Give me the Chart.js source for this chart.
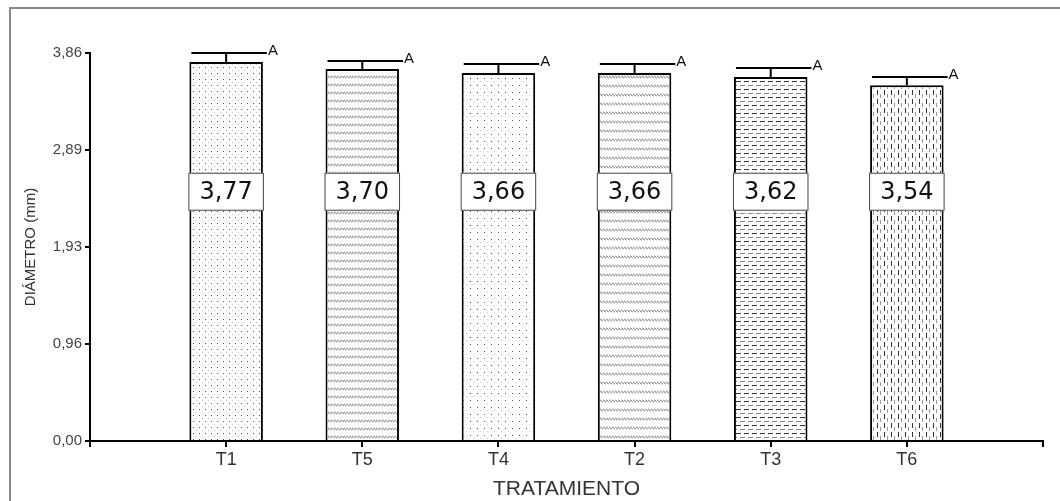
<!DOCTYPE html>
<html>
<head>
<meta charset="utf-8">
<script src="https://cdn.jsdelivr.net/npm/chart.js@4.4.1/dist/chart.umd.min.js"></script>
<style>
  html, body { margin: 0; padding: 0; background: #ffffff; }
  #wrap { width: 1060px; height: 501px; }
</style>
</head>
<body>
<div id="wrap"><canvas id="chart" width="1060" height="501"></canvas></div>
<script>
// data
const treatments = ["T1", "T5", "T4", "T2", "T3", "T6"];
const diameters = [3.77, 3.70, 3.66, 3.66, 3.62, 3.54];
const errors = [0.09, 0.08, 0.09, 0.09, 0.09, 0.08];
const groups = ["A", "A", "A", "A", "A", "A"];
const yTickValues = [0, 0.965, 1.93, 2.895, 3.86];
const yTickLabels = ["0,00", "0,96", "1,93", "2,89", "3,86"];

const AXIS_FONT = "'Liberation Sans', Arial, sans-serif";
const LABEL_LEVEL = 2.48; // height where the value boxes sit

// hatch fills, one per bar
function makePattern(w, h, draw) {
  const c = document.createElement("canvas");
  c.width = w; c.height = h;
  const g = c.getContext("2d");
  g.fillStyle = "#ffffff";
  g.fillRect(0, 0, w, h);
  draw(g);
  return g.createPattern(c, "repeat");
}

const dots = makePattern(6, 6, g => {
  g.fillStyle = "#555"; g.fillRect(1, 1, 1, 1);
  g.fillStyle = "#c8c8c8"; g.fillRect(4, 4, 1, 1);
});
const dotsWide = makePattern(7, 7, g => {
  g.fillStyle = "#555"; g.fillRect(1, 1, 1, 1);
  g.fillStyle = "#cfcfcf"; g.fillRect(4, 4, 1, 1);
});
const slash = makePattern(3, 8, g => {
  g.strokeStyle = "#555"; g.lineWidth = 1;
  g.beginPath(); g.moveTo(0, 6.5); g.lineTo(3, 3.5); g.stroke();
});
const backslash = makePattern(3, 9, g => {
  g.strokeStyle = "#555"; g.lineWidth = 1;
  g.beginPath(); g.moveTo(0, 3.5); g.lineTo(3, 6.5); g.stroke();
});
const hdash = makePattern(8, 8, g => {
  g.fillStyle = "#333"; g.fillRect(0, 1, 5, 1);
  g.fillStyle = "#888"; g.fillRect(4, 5, 5, 1); g.fillRect(0, 5, 1, 1);
});
const vdash = makePattern(7, 9, g => {
  g.fillStyle = "#333"; g.fillRect(2, 0, 1, 5);
  g.fillStyle = "#999"; g.fillRect(5, 4, 1, 4);
});
const fills = [dots, slash, dotsWide, backslash, hdash, vdash];

// pad the category axis so the bars sit at 1..6 of 0..7
const axisLabels = ["", ...treatments, ""];
const barData = [null, ...diameters, null];
const barFills = [null, ...fills, null];

const overlay = {
  id: "overlay",
  beforeDraw(chart) {
    const ctx = chart.ctx;
    ctx.save();
    ctx.strokeStyle = "#8a8a8a";
    ctx.lineWidth = 2;
    ctx.beginPath();
    ctx.moveTo(10, 501);
    ctx.lineTo(10, 8);
    ctx.lineTo(1060, 8);
    ctx.stroke();
    ctx.restore();
  },
  afterDatasetsDraw(chart) {
    const ctx = chart.ctx;
    const y = chart.scales.y;
    const meta = chart.getDatasetMeta(0);
    ctx.save();
    diameters.forEach((v, i) => {
      const bar = meta.data[i + 1];
      const half = bar.width / 2;
      const top = y.getPixelForValue(v);
      const capY = y.getPixelForValue(v + errors[i]);

      // error bar
      ctx.strokeStyle = "#000";
      ctx.lineWidth = 2;
      ctx.beginPath();
      ctx.moveTo(bar.x, top);
      ctx.lineTo(bar.x, capY);
      ctx.moveTo(bar.x - half + 2, capY);
      ctx.lineTo(bar.x + half + 4, capY);
      ctx.stroke();

      ctx.fillStyle = "#111";
      ctx.font = "15px " + AXIS_FONT;
      ctx.textAlign = "left";
      ctx.textBaseline = "middle";
      ctx.fillText(groups[i], bar.x + half + 5, capY - 2);

      // value box
      const cy = y.getPixelForValue(LABEL_LEVEL);
      const bx = bar.x - half - 1, bw = bar.width + 2, bh = 38;
      ctx.fillStyle = "#fff";
      ctx.fillRect(bx, cy - bh / 2, bw, bh);
      ctx.strokeStyle = "#444";
      ctx.lineWidth = 1;
      ctx.strokeRect(bx + 0.5, cy - bh / 2 + 0.5, bw - 1, bh - 1);
      ctx.fillStyle = "#111";
      ctx.font = "24px 'DejaVu Sans', sans-serif";
      ctx.textAlign = "center";
      ctx.fillText(v.toFixed(2).replace(".", ","), bar.x, cy + 1);
    });
    ctx.restore();
  }
};

new Chart(document.getElementById("chart"), {
  type: "bar",
  data: {
    labels: axisLabels,
    datasets: [{
      data: barData,
      backgroundColor: barFills,
      borderColor: "#000",
      borderWidth: 2,
      borderSkipped: "start",
      barPercentage: 0.54,
      categoryPercentage: 1
    }]
  },
  options: {
    responsive: false,
    animation: false,
    layout: { padding: { top: 53, right: 17, left: 0, bottom: 0 } },
    plugins: { legend: { display: false }, tooltip: { enabled: false } },
    scales: {
      x: {
        offset: false,
        grid: { offset: false, drawOnChartArea: false, color: "#000", lineWidth: 2, tickLength: 6 },
        border: { color: "#000", width: 2 },
        ticks: { color: "#333", font: { family: AXIS_FONT, size: 18 }, padding: 2, autoSkip: false, maxRotation: 0 },
        title: {
          display: true, text: "TRATAMIENTO", color: "#333",
          font: { family: AXIS_FONT, size: 21, lineHeight: 1 },
          padding: { top: 0, bottom: 1 }
        },
        afterFit(scale) { scale.height = 60; }
      },
      y: {
        min: 0,
        max: 3.86,
        grid: { drawOnChartArea: false, color: "#000", lineWidth: 2, tickLength: 5 },
        border: { color: "#000", width: 2 },
        afterBuildTicks(scale) { scale.ticks = yTickValues.map(v => ({ value: v })); },
        ticks: {
          color: "#444", font: { family: AXIS_FONT, size: 15 }, padding: 3,
          callback: (val, idx) => yTickLabels[idx]
        },
        title: {
          display: true, text: "DIÁMETRO (mm)", color: "#333",
          font: { family: AXIS_FONT, size: 15, lineHeight: 1 },
          padding: { top: 23, bottom: 0 }
        },
        afterFit(scale) { scale.width = 90; }
      }
    }
  },
  plugins: [overlay]
});
</script>
</body>
</html>
